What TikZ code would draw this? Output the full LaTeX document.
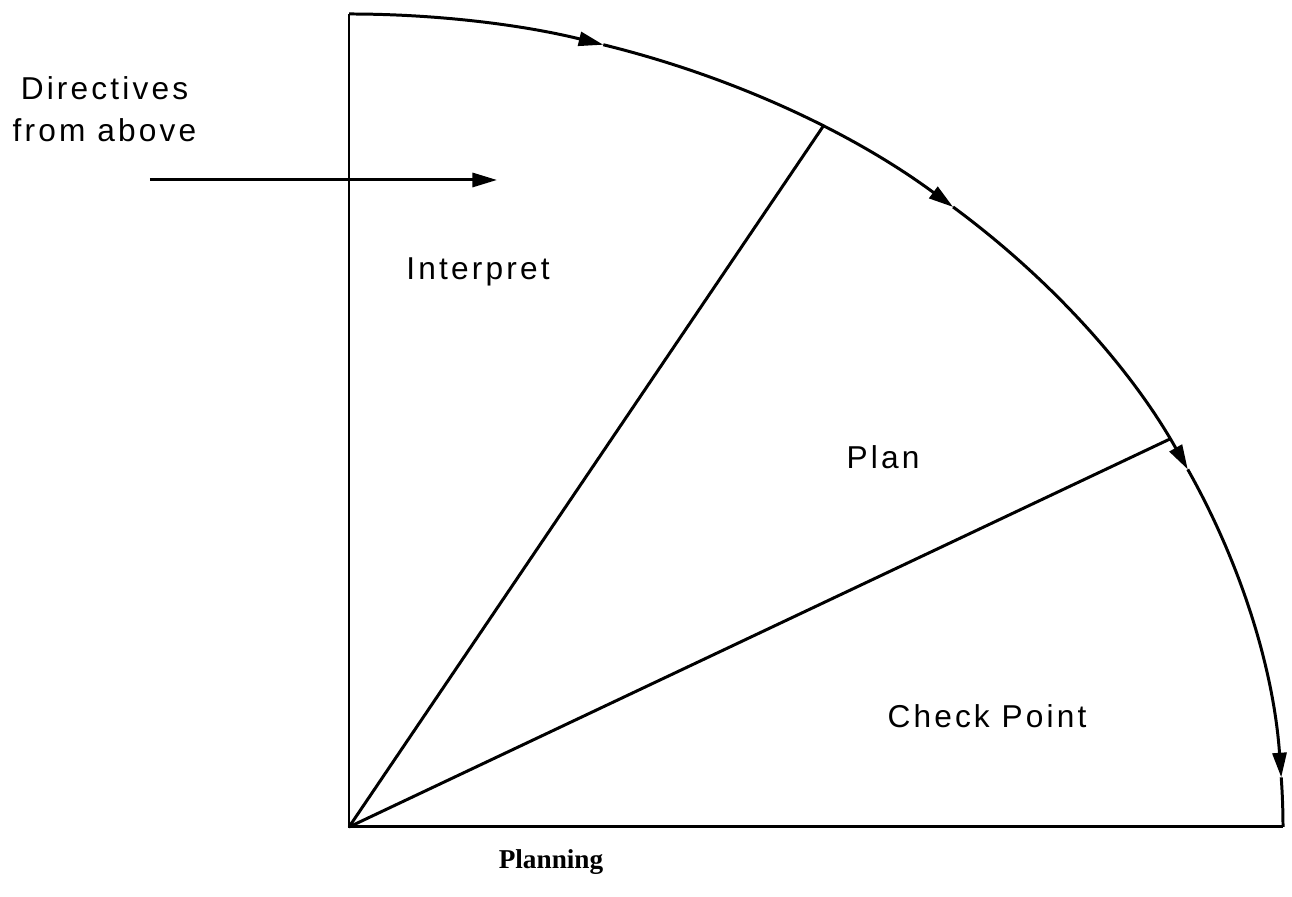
\documentclass[tikz,border=0pt]{standalone}
\usepackage{fontspec}
\setmainfont{Liberation Sans}
\newfontfamily\spacedfont[LetterSpace=10]{Liberation Sans}
\newfontfamily\captionfont{Liberation Serif}
\usetikzlibrary{arrows.meta,positioning}

\begin{document}
\begin{tikzpicture}[
  line width=1.7pt,
  flow/.style={-{Triangle[length=14pt,width=8pt]}},
  sector/.style={font=\spacedfont\fontsize{18}{24}\selectfont, align=center},
  caption/.style={font=\captionfont\bfseries\fontsize{15.5}{18}\selectfont}
]
  \useasboundingbox (-6.98,-1.40) rectangle (18.86,16.54);

  % quadrant axes
  \coordinate (O) at (0,0);
  \coordinate (top) at (0,16.26);
  \coordinate (right) at (18.68,0);
  \draw (top) -- (O) -- (right);

  % points on the arc
  \coordinate (a1) at (74.2:18.68 and 16.26);
  \coordinate (a2) at (49.7:18.68 and 16.26);
  \coordinate (a3) at (26.1:18.68 and 16.26);
  \coordinate (a4) at (3.5:18.68 and 16.26);
  \coordinate (s1) at (59.5:18.68 and 16.26);
  \coordinate (s2) at (28.5:18.68 and 16.26);

  \draw[flow] (top) arc[start angle=90, end angle=74.2, x radius=18.68cm, y radius=16.26cm];
  \draw[flow] (a1) arc[start angle=74.2, end angle=49.7, x radius=18.68cm, y radius=16.26cm];
  \draw[flow] (a2) arc[start angle=49.7, end angle=26.1, x radius=18.68cm, y radius=16.26cm];
  \draw[flow] (a3) arc[start angle=26.1, end angle=3.5, x radius=18.68cm, y radius=16.26cm];
  \draw (a4) arc[start angle=3.5, end angle=0, x radius=18.68cm, y radius=16.26cm];

  % sector borders
  \draw (O) -- (s1);
  \draw (O) -- (s2);

  % incoming directives
  \coordinate (d0) at (-3.98,12.94);
  \coordinate (d1) at (2.96,12.94);
  \draw[flow] (d0) -- (d1);

  \node[sector] (dir) at (-4.89,14.36) {Directives\\from above};
  \node[sector] (interp) at (2.58,11.10) {Interpret};
  \node[sector] (plan) at (10.68,7.40) {Plan};
  \node[sector] (check) at (12.76,2.22) {Check Point};
  \node[caption] (title) at (4.04,-0.70) {Planning};
\end{tikzpicture}
\end{document}
